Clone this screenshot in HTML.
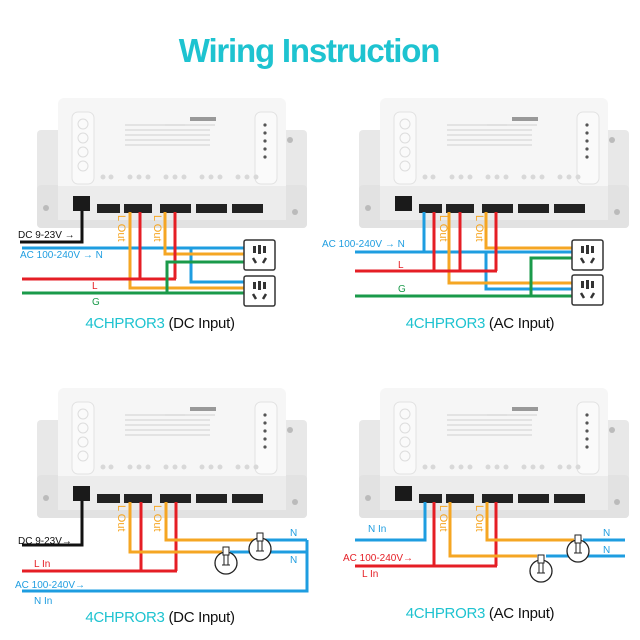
<!DOCTYPE html>
<html><head><meta charset="utf-8"><style>
html,body{margin:0;padding:0;background:#fff;}
svg{display:block;font-family:"Liberation Sans",sans-serif;}
</style></head><body>
<svg width="640" height="640" viewBox="0 0 640 640" xmlns="http://www.w3.org/2000/svg">
<defs>
<g id="dev">
  <rect x="37" y="130" width="270" height="98" rx="4" fill="#e8e8e8"/>
  <rect x="37" y="185" width="270" height="43" rx="4" fill="#e2e2e2"/>
  <circle cx="46" cy="208" r="3" fill="#bbb"/>
  <circle cx="295" cy="212" r="3" fill="#bbb"/>
  <circle cx="290" cy="140" r="3" fill="#bbb"/>
  <rect x="58" y="98" width="228" height="122" rx="6" fill="#f6f6f6"/>
  <rect x="58" y="186" width="228" height="34" fill="#ececec"/>
  <rect x="72" y="112" width="22" height="72" rx="6" fill="#fafafa" stroke="#e2e2e2"/>
  <rect x="255" y="112" width="22" height="72" rx="6" fill="#fafafa" stroke="#e2e2e2"/>
  <circle cx="83" cy="124" r="5" fill="none" stroke="#ddd"/>
  <circle cx="83" cy="138" r="5" fill="none" stroke="#ddd"/>
  <circle cx="83" cy="152" r="5" fill="none" stroke="#ddd"/>
  <circle cx="83" cy="166" r="5" fill="none" stroke="#ddd"/>
  <circle cx="265" cy="125" r="1.6" fill="#555"/><circle cx="265" cy="133" r="1.6" fill="#555"/>
  <circle cx="265" cy="141" r="1.6" fill="#555"/><circle cx="265" cy="149" r="1.6" fill="#555"/>
  <circle cx="265" cy="157" r="1.6" fill="#555"/>
  <rect x="190" y="117" width="26" height="4" fill="#999"/>
  <g stroke="#d8d8d8" stroke-width="1.2">
    <line x1="125" y1="125" x2="185" y2="125"/><line x1="165" y1="125" x2="215" y2="125"/>
    <line x1="125" y1="130" x2="210" y2="130"/><line x1="125" y1="135" x2="210" y2="135"/>
    <line x1="125" y1="140" x2="210" y2="140"/><line x1="125" y1="145" x2="210" y2="145"/>
  </g>
  <g fill="#d8d8d8">
    <circle cx="103" cy="177" r="2.5"/><circle cx="111" cy="177" r="2.5"/>
    <circle cx="130" cy="177" r="2.5"/><circle cx="139" cy="177" r="2.5"/><circle cx="148" cy="177" r="2.5"/>
    <circle cx="166" cy="177" r="2.5"/><circle cx="175" cy="177" r="2.5"/><circle cx="184" cy="177" r="2.5"/>
    <circle cx="202" cy="177" r="2.5"/><circle cx="211" cy="177" r="2.5"/><circle cx="220" cy="177" r="2.5"/>
    <circle cx="238" cy="177" r="2.5"/><circle cx="247" cy="177" r="2.5"/><circle cx="256" cy="177" r="2.5"/>
  </g>
  <rect x="73" y="196" width="17" height="15" fill="#1a1a1a"/>
  <rect x="97" y="204" width="23" height="9" fill="#222"/>
  <rect x="124" y="204" width="28" height="9" fill="#222"/>
  <rect x="160" y="204" width="31" height="9" fill="#222"/>
  <rect x="196" y="204" width="31" height="9" fill="#222"/>
  <rect x="232" y="204" width="31" height="9" fill="#222"/>
</g>
<g id="sock">
  <rect x="0" y="0" width="31" height="30" rx="2" fill="#fff" stroke="#333" stroke-width="1.5"/>
  <rect x="9" y="6" width="3" height="7" fill="#333"/><rect x="19" y="6" width="3" height="7" fill="#333"/>
  <rect x="14" y="5" width="3" height="9" fill="#333"/>
  <line x1="9" y1="18" x2="12" y2="23" stroke="#333" stroke-width="2.5"/>
  <line x1="22" y1="18" x2="19" y2="23" stroke="#333" stroke-width="2.5"/>
</g>
<g id="lamp">
  <circle cx="0" cy="4" r="11" fill="#fff" stroke="#222" stroke-width="1.3"/>
  <rect x="-3" y="-12" width="6" height="8" fill="#fff" stroke="#222" stroke-width="1"/>
  <path d="M-2 -4 L-2 6 M2 -4 L2 6 M-4 6 L4 6" stroke="#222" stroke-width="1" fill="none"/>
</g>
</defs>

<text x="309" y="62" text-anchor="middle" font-size="33" font-weight="bold" fill="#1ec3d0" letter-spacing="-1.2">Wiring Instruction</text>

<!-- Q1 -->
<use href="#dev"/>
<g fill="none" stroke-width="3">
  <polyline points="82,211 82,242 20,242" stroke="#111"/>
  <line x1="22" y1="248" x2="244" y2="248" stroke="#1e9de0"/>
  <polyline points="191,248 191,282 244,282" stroke="#1e9de0"/>
  <polyline points="130,212 130,288 244,288" stroke="#f5a623"/>
  <polyline points="165,212 165,254 244,254" stroke="#f5a623"/>
  <line x1="22" y1="279" x2="176" y2="279" stroke="#e51e25"/>
  <line x1="140" y1="212" x2="140" y2="279" stroke="#e51e25"/>
  <line x1="175" y1="212" x2="175" y2="279" stroke="#e51e25"/>
  <line x1="22" y1="293" x2="244" y2="293" stroke="#1a9a4a"/>
  <polyline points="167,293 167,262 244,262" stroke="#1a9a4a"/>
</g>
<use href="#sock" x="244" y="240"/><use href="#sock" x="244" y="276"/>
<text x="18" y="238" font-size="10" fill="#111">DC 9-23V →</text>
<text x="20" y="258" font-size="10" fill="#1e9de0">AC 100-240V → N</text>
<text x="92" y="289" font-size="10" fill="#e51e25">L</text>
<text x="92" y="305" font-size="10" fill="#1a9a4a">G</text>
<text transform="translate(118,215) rotate(90)" font-size="11" fill="#f5a623">L Out</text>
<text transform="translate(154,215) rotate(90)" font-size="11" fill="#f5a623">L Out</text>
<text x="160" y="328" text-anchor="middle" font-size="15" letter-spacing="-0.3"><tspan fill="#1ec3d0">4CHPROR3</tspan><tspan fill="#111"> (DC Input)</tspan></text>

<!-- Q2 -->
<use href="#dev" x="322"/>
<g fill="none" stroke-width="3">
  <line x1="355" y1="252" x2="572" y2="252" stroke="#1e9de0"/>
  <line x1="424" y1="212" x2="424" y2="252" stroke="#1e9de0"/>
  <polyline points="486,252 486,289 572,289" stroke="#1e9de0"/>
  <polyline points="449,212 449,283 572,283" stroke="#f5a623"/>
  <polyline points="486,212 486,248 572,248" stroke="#f5a623"/>
  <line x1="355" y1="271" x2="497" y2="271" stroke="#e51e25"/>
  <line x1="434" y1="212" x2="434" y2="271" stroke="#e51e25"/>
  <line x1="460" y1="212" x2="460" y2="271" stroke="#e51e25"/>
  <line x1="496" y1="212" x2="496" y2="271" stroke="#e51e25"/>
  <line x1="355" y1="296" x2="572" y2="296" stroke="#1a9a4a"/>
  <polyline points="531,296 531,258 572,258" stroke="#1a9a4a"/>
</g>
<use href="#sock" x="572" y="240"/><use href="#sock" x="572" y="275"/>
<text x="322" y="247" font-size="10" fill="#1e9de0">AC 100-240V → N</text>
<text x="398" y="268" font-size="10" fill="#e51e25">L</text>
<text x="398" y="292" font-size="10" fill="#1a9a4a">G</text>
<text transform="translate(440,215) rotate(90)" font-size="11" fill="#f5a623">L Out</text>
<text transform="translate(476,215) rotate(90)" font-size="11" fill="#f5a623">L Out</text>
<text x="480" y="328" text-anchor="middle" font-size="15" letter-spacing="-0.3"><tspan fill="#1ec3d0">4CHPROR3</tspan><tspan fill="#111"> (AC Input)</tspan></text>

<!-- Q3 -->
<use href="#dev" y="290"/>
<g fill="none" stroke-width="3">
  <polyline points="82,501 82,545 22,545" stroke="#111"/>
  <line x1="22" y1="571" x2="177" y2="571" stroke="#e51e25"/>
  <line x1="141" y1="502" x2="141" y2="571" stroke="#e51e25"/>
  <line x1="176" y1="502" x2="176" y2="571" stroke="#e51e25"/>
  <polyline points="130,502 130,552 222,552" stroke="#f5a623"/>
  <polyline points="166,502 166,540 258,540" stroke="#f5a623"/>
  <line x1="230" y1="552" x2="307" y2="552" stroke="#1e9de0"/>
  <line x1="264" y1="540" x2="307" y2="540" stroke="#1e9de0"/>
  <polyline points="22,591 307,591 307,540" stroke="#1e9de0"/>
</g>
<use href="#lamp" x="226" y="559"/><use href="#lamp" x="260" y="545"/>
<text x="18" y="544" font-size="10" fill="#111">DC 9-23V→</text>
<text x="34" y="567" font-size="10" fill="#e51e25">L In</text>
<text x="15" y="588" font-size="10" fill="#1e9de0">AC 100-240V→</text>
<text x="34" y="604" font-size="10" fill="#1e9de0">N In</text>
<text x="290" y="536" font-size="10" fill="#1e9de0">N</text>
<text x="290" y="563" font-size="10" fill="#1e9de0">N</text>
<text transform="translate(118,505) rotate(90)" font-size="11" fill="#f5a623">L Out</text>
<text transform="translate(154,505) rotate(90)" font-size="11" fill="#f5a623">L Out</text>
<text x="160" y="622" text-anchor="middle" font-size="15" letter-spacing="-0.3"><tspan fill="#1ec3d0">4CHPROR3</tspan><tspan fill="#111"> (DC Input)</tspan></text>

<!-- Q4 -->
<use href="#dev" x="322" y="290"/>
<g fill="none" stroke-width="3">
  <polyline points="355,540 425,540 425,502" stroke="#1e9de0"/>
  <line x1="355" y1="566" x2="497" y2="566" stroke="#e51e25"/>
  <line x1="434" y1="502" x2="434" y2="566" stroke="#e51e25"/>
  <line x1="496" y1="502" x2="496" y2="566" stroke="#e51e25"/>
  <polyline points="450,502 450,556 537,556" stroke="#f5a623"/>
  <polyline points="487,502 487,540 574,540" stroke="#f5a623"/>
  <line x1="546" y1="556" x2="625" y2="556" stroke="#1e9de0"/>
  <line x1="583" y1="540" x2="625" y2="540" stroke="#1e9de0"/>
</g>
<use href="#lamp" x="541" y="567"/><use href="#lamp" x="578" y="547"/>
<text x="368" y="532" font-size="10" fill="#1e9de0">N In</text>
<text x="343" y="561" font-size="10" fill="#e51e25">AC 100-240V→</text>
<text x="362" y="577" font-size="10" fill="#e51e25">L In</text>
<text x="603" y="536" font-size="10" fill="#1e9de0">N</text>
<text x="603" y="553" font-size="10" fill="#1e9de0">N</text>
<text transform="translate(440,505) rotate(90)" font-size="11" fill="#f5a623">L Out</text>
<text transform="translate(476,505) rotate(90)" font-size="11" fill="#f5a623">L Out</text>
<text x="480" y="618" text-anchor="middle" font-size="15" letter-spacing="-0.3"><tspan fill="#1ec3d0">4CHPROR3</tspan><tspan fill="#111"> (AC Input)</tspan></text>
</svg>
</body></html>
